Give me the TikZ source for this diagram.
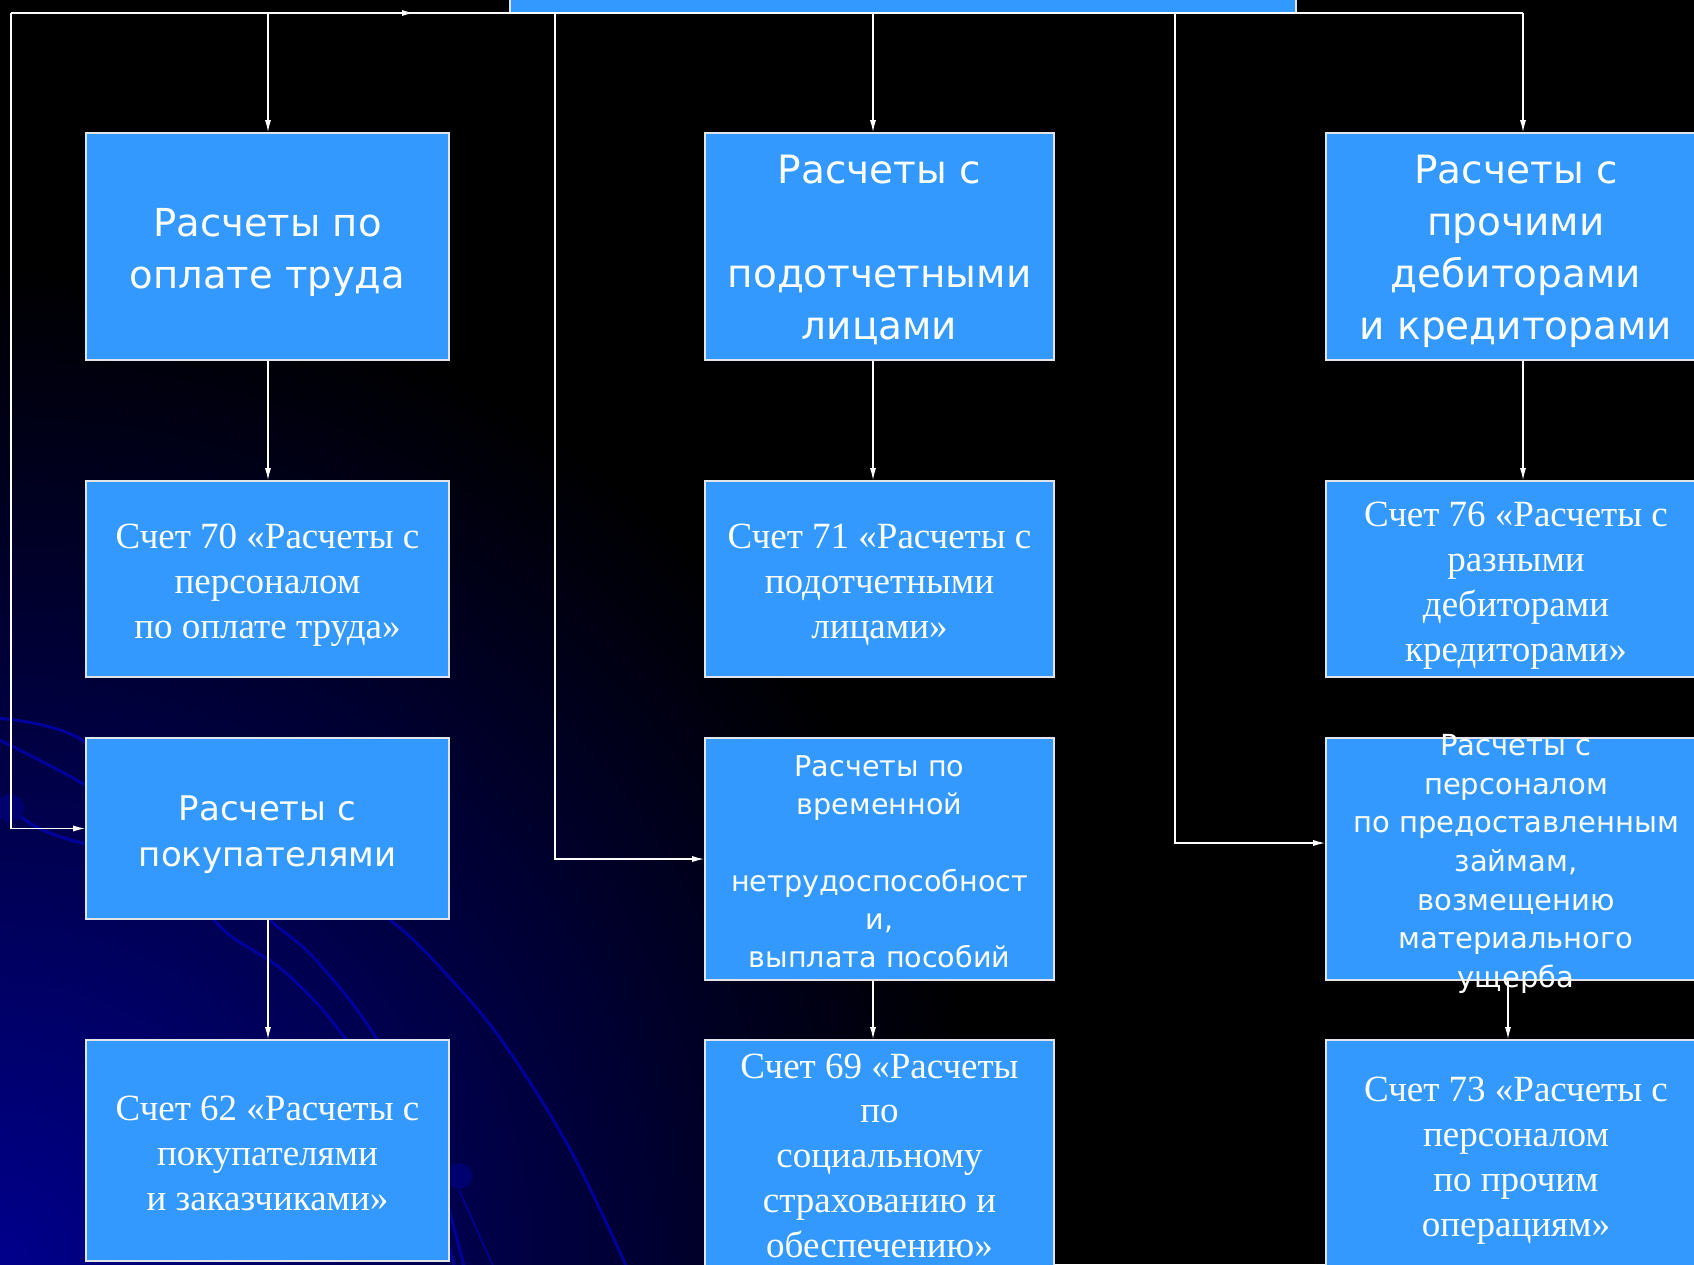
\documentclass[tikz,border=0pt]{standalone}
\usepackage{fontspec}
\setmainfont{Liberation Serif}
\newfontfamily\hfont{DejaVu Sans}
\usetikzlibrary{arrows.meta}
\definecolor{boxblue}{RGB}{51,153,255}
\definecolor{boxedge}{RGB}{225,228,235}
\definecolor{navyline}{RGB}{0,0,165}
\definecolor{bgblue}{RGB}{0,0,140}
\definecolor{planet}{RGB}{0,0,110}
\newcommand\firstln{\rule{0pt}{0.8em}}
\begin{document}
\begin{tikzpicture}[x=1pt,y=-1pt,
  box/.style={draw=boxedge, line width=1.6pt, fill=boxblue, inner sep=0pt, rectangle},
  lbl/.style={text=white, align=center, inner sep=0pt, anchor=north},
  conn/.style={draw=white, line width=1.3pt},
  arr/.style={conn, -{Latex[length=12pt,width=6pt]}},
  bgcurve/.style={draw=navyline, line width=3pt, opacity=0.9}]
% background
\fill[black] (0,0) rectangle (1694,1264);
\useasboundingbox (0,0) rectangle (1694,1264);
\begin{scope}
\clip (0,0) rectangle (1694,1264);
\shade[inner color=bgblue, outer color=black] (0,1264) circle (1000pt);
\draw[bgcurve] plot[smooth, tension=0.6] coordinates {(-5,718) (82,740) (170,830) (214,920) (286,973) (347,1041) (420,1160) (455,1270)};
\draw[bgcurve] plot[smooth, tension=0.6] coordinates {(-5,738) (87,786) (220,870) (270,920) (316,960) (378,1041) (430,1150) (465,1270)};
\draw[bgcurve] plot[smooth, tension=0.6] coordinates {(20,816) (87,844) (320,880) (390,920) (449,977) (505,1045) (571,1151) (628,1270)};
\draw[bgcurve, line width=1.5pt] (459,1190) -- (495,1270);
\fill[planet] (10,808) circle (14pt);
\fill[planet] (459,1176) circle (13pt);
\end{scope}
% top box (cut off)
\node[box, minimum width=786pt, minimum height=63pt] (top) at (903,-18.5) {};
% boxes
\node[box, minimum width=363pt, minimum height=227pt] (b11) at (267.5,246.5) {};
\node[box, minimum width=349pt, minimum height=227pt] (b12) at (879.5,246.5) {};
\node[box, minimum width=384pt, minimum height=227pt] (b13) at (1518,246.5) {};
\node[box, minimum width=363pt, minimum height=196pt] (b21) at (267.5,579) {};
\node[box, minimum width=349pt, minimum height=196pt] (b22) at (879.5,579) {};
\node[box, minimum width=384pt, minimum height=196pt] (b23) at (1518,579) {};
\node[box, minimum width=363pt, minimum height=181pt] (b31) at (267.5,828.5) {};
\node[box, minimum width=349pt, minimum height=242pt] (b32) at (879.5,859) {};
\node[box, minimum width=384pt, minimum height=242pt] (b33) at (1518,859) {};
\node[box, minimum width=363pt, minimum height=221pt] (b41) at (267.5,1150.5) {};
\node[box, minimum width=349pt, minimum height=240pt] (b42) at (879.5,1160) {};
\node[box, minimum width=384pt, minimum height=240pt] (b43) at (1518,1160) {};
% labels
\node[lbl, font=\hfont\fontsize{38.5}{52}\selectfont] (t11) at (267.5,205) {\firstln Расчеты по\\оплате труда};
\node[lbl, font=\hfont\fontsize{39}{52}\selectfont] (t12) at (879.5,152) {\firstln Расчеты с\\[52pt]подотчетными\\лицами};
\node[lbl, font=\hfont\fontsize{39}{52}\selectfont] (t13) at (1516,152) {\firstln Расчеты с\\прочими\\дебиторами\\и кредиторами};
\node[lbl, font=\fontsize{37}{45}\selectfont] (t21) at (267.5,518.4) {\firstln Счет 70 «Расчеты с\\персоналом\\по оплате труда»};
\node[lbl, font=\fontsize{37}{45}\selectfont] (t22) at (879.5,518.4) {\firstln Счет 71 «Расчеты с\\подотчетными\\лицами»};
\node[lbl, font=\fontsize{37}{45}\selectfont] (t23) at (1516,496.4) {\firstln Счет 76 «Расчеты с\\разными\\дебиторами\\кредиторами»};
\node[lbl, font=\hfont\fontsize{34}{46}\selectfont] (t31) at (267.5,793) {\firstln Расчеты с\\покупателями};
\node[lbl, font=\hfont\fontsize{28.6}{38.2}\selectfont] (t32) at (879.5,753.5) {\firstln Расчеты по\\временной\\[38.2pt]нетрудоспособност\\и,\\выплата пособий};
\node[lbl, font=\hfont\fontsize{29}{38.7}\selectfont] (t33) at (1516,732) {\firstln Расчеты с\\персоналом\\по предоставленным\\займам,\\возмещению\\материального\\ущерба};
\node[lbl, font=\fontsize{37}{45}\selectfont] (t41) at (267.5,1090.4) {\firstln Счет 62 «Расчеты с\\покупателями\\и заказчиками»};
\node[lbl, font=\fontsize{37}{44.75}\selectfont] (t42) at (879.5,1048.4) {\firstln Счет 69 «Расчеты\\по\\социальному\\страхованию и\\обеспечению»};
\node[lbl, font=\fontsize{37}{45}\selectfont] (t43) at (1516,1071.4) {\firstln Счет 73 «Расчеты с\\персоналом\\по прочим\\операциям»};
% connector coordinates
\coordinate (tl) at (11,13);
\coordinate (tr) at (1523,13);
\coordinate (xa) at (268,13);
\coordinate (xb) at (555,13);
\coordinate (xc) at (873,13);
\coordinate (xd) at (1175,13);
\coordinate (xe) at (1523,13);
\coordinate (xf) at (1508,13);
\coordinate (mark) at (414,13);
% connectors
\draw[conn] (tl) -- (tr);
\draw[arr] (tl) -- (mark);
\draw[arr] (tl) |- (b31.west);
\draw[arr] (xa) -- (xa |- b11.north);
\draw[arr] (xb) |- (b32.west);
\draw[arr] (xc) -- (xc |- b12.north);
\draw[arr] (xd) |- ([yshift=16pt]b33.west);
\draw[arr] (xe) -- (xe |- b13.north);
\draw[arr] (b11.south -| xa) -- (b21.north -| xa);
\draw[arr] (b12.south -| xc) -- (b22.north -| xc);
\draw[arr] (b13.south -| xe) -- (b23.north -| xe);
\draw[arr] (b31.south -| xa) -- (b41.north -| xa);
\draw[arr] (b32.south -| xc) -- (b42.north -| xc);
\draw[arr] (b33.south -| xf) -- (b43.north -| xf);
\end{tikzpicture}
\end{document}
